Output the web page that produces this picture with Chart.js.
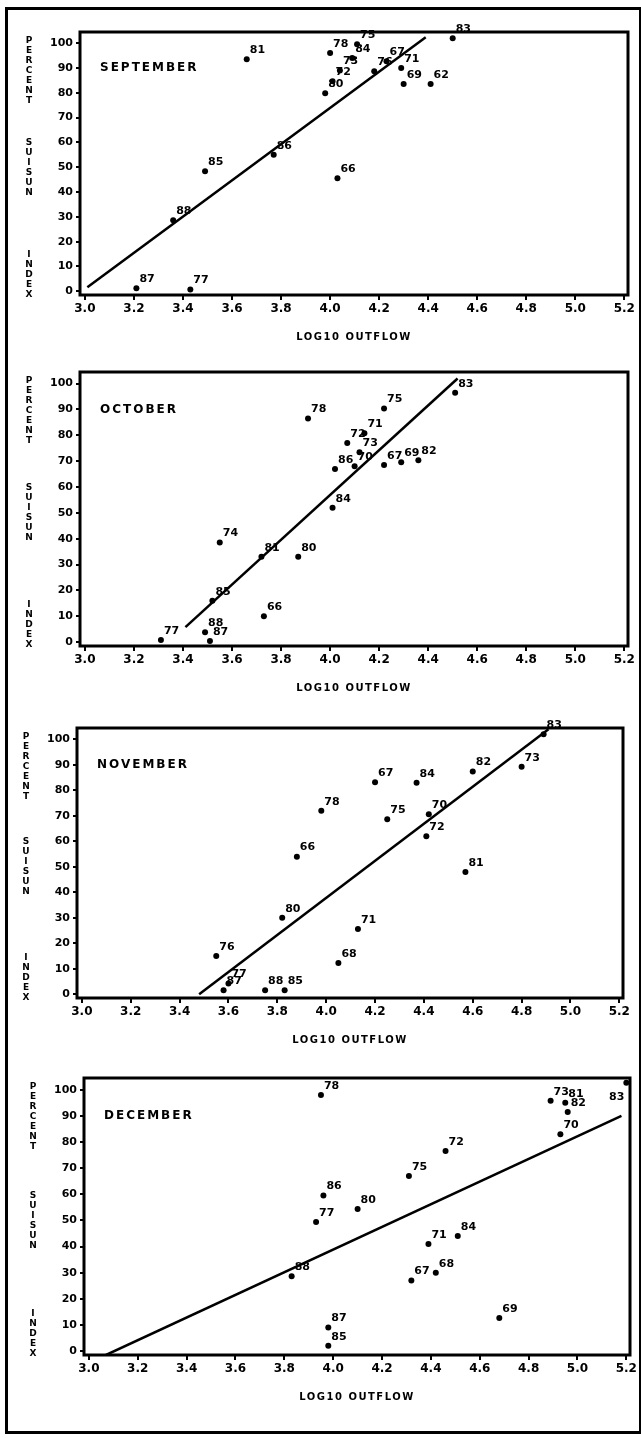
<!DOCTYPE html>
<html>
<head>
<meta charset="utf-8">
<script src="https://cdn.jsdelivr.net/npm/chart.js@4/dist/chart.umd.min.js"></script>
<style>
  body { margin: 0; background: #fff; }
  #page { position: relative; width: 641px; height: 1438px; }
  #frame { position: absolute; left: 5px; top: 7px; width: 631px; height: 1421px;
           border: 3px solid #000; }
  canvas { position: absolute; left: 0; }
</style>
</head>
<body>
<div id="page">
  <div id="frame"></div>
  <canvas id="sep"></canvas>
  <canvas id="oct"></canvas>
  <canvas id="nov"></canvas>
  <canvas id="dec"></canvas>
</div>
<script>
// axis ticks
const xTicks = [3.0, 3.2, 3.4, 3.6, 3.8, 4.0, 4.2, 4.4, 4.6, 4.8, 5.0, 5.2];
const yTicks = [0, 10, 20, 30, 40, 50, 60, 70, 80, 90, 100];

// September
const sepYears   = ["81", "78", "75", "84", "67", "71", "73", "76", "72", "80", "69", "62", "83", "86", "85", "66", "88", "87", "77"];
const sepOutflow = [3.66, 4.00, 4.11, 4.09, 4.23, 4.29, 4.04, 4.18, 4.01, 3.98, 4.30, 4.41, 4.50, 3.77, 3.49, 4.03, 3.36, 3.21, 3.43];
const sepIndex   = [93.5, 96, 99.6, 94, 92.7, 90, 89, 88.7, 84.7, 79.8, 83.5, 83.5, 102, 55, 48.4, 45.6, 28.6, 1.2, 0.7];
const sepFitX = [3.01, 4.39];
const sepFitY = [1.6, 102.4];

// October
const octYears   = ["78", "75", "83", "71", "72", "73", "86", "70", "67", "69", "82", "84", "74", "81", "80", "85", "66", "88", "87", "77"];
const octOutflow = [3.91, 4.22, 4.51, 4.14, 4.07, 4.12, 4.02, 4.10, 4.22, 4.29, 4.36, 4.01, 3.55, 3.72, 3.87, 3.52, 3.73, 3.49, 3.51, 3.31];
const octIndex   = [86.5, 90.4, 96.5, 80.8, 77, 73.5, 67, 68, 68.5, 69.6, 70.4, 52, 38.5, 33, 33, 16, 10, 3.8, 0.4, 0.8];
const octFitX = [3.41, 4.52];
const octFitY = [5.8, 102];

// November
const novYears   = ["83", "82", "73", "67", "84", "78", "75", "70", "72", "66", "81", "80", "71", "76", "68", "77", "87", "88", "85"];
const novOutflow = [4.89, 4.60, 4.80, 4.20, 4.37, 3.98, 4.25, 4.42, 4.41, 3.88, 4.57, 3.82, 4.13, 3.55, 4.05, 3.60, 3.58, 3.75, 3.83];
const novIndex   = [102, 87.4, 89.3, 83.2, 83, 72, 68.7, 70.6, 62, 54, 48, 30, 25.6, 15, 12.2, 4.2, 1.5, 1.5, 1.5];
const novFitX = [3.48, 4.91];
const novFitY = [0, 104];

// December
const decYears   = ["78", "73", "81", "83", "82", "70", "72", "75", "86", "77", "80", "71", "84", "88", "67", "68", "69", "87", "85"];
const decOutflow = [3.95, 4.89, 4.95, 5.20, 4.96, 4.93, 4.46, 4.31, 3.96, 3.93, 4.10, 4.39, 4.51, 3.83, 4.32, 4.42, 4.68, 3.98, 3.98];
const decIndex   = [98, 95.8, 95, 102.7, 91.5, 83, 76.6, 67, 59.5, 49.4, 54.4, 41, 44, 28.6, 27, 30, 12.7, 9, 2];
const decFitX = [3.07, 5.18];
const decFitY = [-1.5, 90];

const FONT = '"DejaVu Sans", sans-serif';

const annot = {
  id: 'annot',
  afterDraw(chart, args, opts) {
    const { ctx, chartArea: a, scales: { x, y } } = chart;
    ctx.save();
    ctx.strokeStyle = '#000';
    ctx.lineWidth = 3;
    ctx.strokeRect(a.left, a.top, a.right - a.left, a.bottom - a.top);

    ctx.fillStyle = '#000';
    ctx.textBaseline = 'middle';

    // month name
    ctx.textAlign = 'left';
    ctx.font = 'bold 12px ' + FONT;
    ctx.letterSpacing = '2px';
    ctx.fillText(opts.month, a.left + 20, y.getPixelForValue(90));

    // x title
    ctx.textAlign = 'center';
    ctx.font = 'bold 10px ' + FONT;
    ctx.letterSpacing = '1.5px';
    ctx.fillText('LOG10 OUTFLOW', (a.left + a.right) / 2, a.bottom + 42);

    // y title, letters stacked
    ctx.letterSpacing = '0px';
    ctx.font = 'bold 9px ' + FONT;
    const cx = a.left - 51;
    const top = y.getPixelForValue(100) - 3;
    const bot = y.getPixelForValue(0) + 3;
    const step = 10;
    'PERCENT'.split('').forEach((c, i) => ctx.fillText(c, cx, top + i * step));
    'INDEX'.split('').forEach((c, i) => ctx.fillText(c, cx, bot - (4 - i) * step));
    const mid = (top + bot) / 2;
    'SUISUN'.split('').forEach((c, i) => ctx.fillText(c, cx, mid + (i - 2.5) * step));

    // point labels (up-right, or below-left when near the right edge)
    ctx.font = 'bold 11px ' + FONT;
    const meta = chart.getDatasetMeta(0);
    meta.data.forEach((pt, i) => {
      const t = opts.labels[i];
      const w = ctx.measureText(t).width;
      if (pt.x + 3 + w > a.right - 3) {
        ctx.textAlign = 'right';
        ctx.fillText(t, pt.x - 2, pt.y + 14);
      } else {
        ctx.textAlign = 'left';
        ctx.fillText(t, pt.x + 3, pt.y - 9);
      }
    });
    ctx.restore();
  }
};

function makePanel(id, box, month, years, xs, ys, fitX, fitY) {
  const cv = document.getElementById(id);
  const padTop = 10, below = 55;
  const h = box.bottom - box.top + padTop + below;
  cv.width = 641;
  cv.height = h;
  cv.style.top = (box.top - padTop) + 'px';
  cv.style.width = '641px';
  cv.style.height = h + 'px';

  new Chart(cv, {
    type: 'scatter',
    data: {
      datasets: [
        {
          data: xs.map((v, i) => ({ x: v, y: ys[i] })),
          backgroundColor: '#000',
          borderWidth: 0,
          pointRadius: 3,
        },
        {
          type: 'line',
          data: fitX.map((v, i) => ({ x: v, y: fitY[i] })),
          borderColor: '#000',
          borderWidth: 2.5,
          pointRadius: 0,
          fill: false,
        },
      ],
    },
    options: {
      responsive: false,
      animation: false,
      devicePixelRatio: 1,
      layout: { padding: { left: 0, top: padTop, right: 641 - box.right, bottom: 0 } },
      plugins: {
        legend: { display: false },
        tooltip: { enabled: false },
        annot: { month: month, labels: years },
      },
      scales: {
        x: {
          type: 'linear',
          min: 2.98,
          max: 5.215,
          afterBuildTicks: (s) => { s.ticks = xTicks.map(v => ({ value: v })); },
          afterFit: (s) => { s.height = below; },
          border: { display: false },
          grid: { drawOnChartArea: false, drawTicks: true, tickLength: 5, color: '#000', lineWidth: 2 },
          ticks: {
            color: '#000',
            padding: 2,
            maxRotation: 0,
            autoSkip: false,
            font: { family: FONT, size: 12, weight: 'bold' },
            callback: (v) => Number(v).toFixed(1),
          },
        },
        y: {
          min: -1.5,
          max: 104.5,
          afterBuildTicks: (s) => { s.ticks = yTicks.map(v => ({ value: v })); },
          afterFit: (s) => { s.width = box.left; },
          border: { display: false },
          grid: { drawOnChartArea: false, drawTicks: true, tickLength: 4, color: '#000', lineWidth: 2 },
          ticks: {
            color: '#000',
            padding: 3,
            autoSkip: false,
            font: { family: FONT, size: 11, weight: 'bold' },
          },
        },
      },
    },
    plugins: [annot],
  });
}

makePanel('sep', { left: 80, top: 32, right: 628, bottom: 295 }, 'SEPTEMBER', sepYears, sepOutflow, sepIndex, sepFitX, sepFitY);
makePanel('oct', { left: 80, top: 372, right: 628, bottom: 646 }, 'OCTOBER', octYears, octOutflow, octIndex, octFitX, octFitY);
makePanel('nov', { left: 77, top: 728, right: 623, bottom: 998 }, 'NOVEMBER', novYears, novOutflow, novIndex, novFitX, novFitY);
makePanel('dec', { left: 84, top: 1078, right: 630, bottom: 1355 }, 'DECEMBER', decYears, decOutflow, decIndex, decFitX, decFitY);
</script>
</body>
</html>
